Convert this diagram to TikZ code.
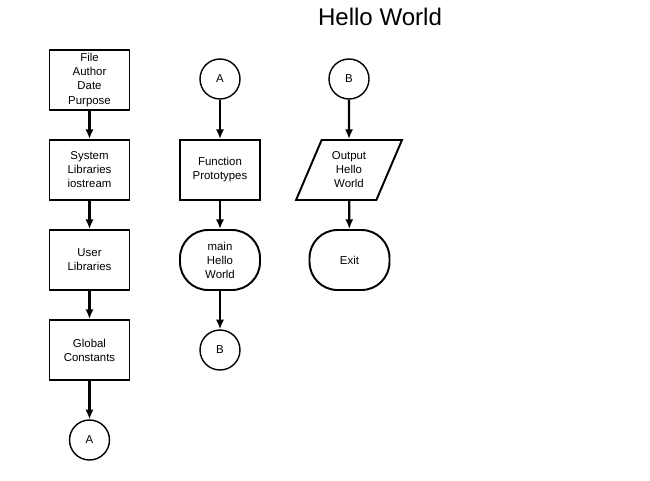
\documentclass[tikz,border=0pt]{standalone}
\usepackage{fontspec}
\setmainfont{Liberation Sans}
\usetikzlibrary{arrows.meta, shapes.geometric}

\tikzset{
    flowbox/.style={draw, line width=1.1pt, minimum width=1.6cm, minimum height=1.2cm, align=center, font=\fontsize{6.5}{8}\selectfont, inner sep=1pt},
    termbox/.style={flowbox, rounded corners=0.56cm},
    iobox/.style={flowbox, trapezium, trapezium left angle=66, trapezium right angle=114, trapezium stretches=true, minimum width=2.12cm},
    connector/.style={draw, circle, line width=0.8pt, minimum size=0.8cm, inner sep=0pt, font=\fontsize{6.5}{8}\selectfont},
    flowarrow/.style={line width=1.25pt, -{Latex[length=5.5pt, width=4.6pt]}}
}

\begin{document}
\begin{tikzpicture}
    \useasboundingbox (0,0) rectangle (13,9.6);
    \node[font=\fontsize{13.7}{16}\selectfont] (title) at (7.6,9.26) {Hello World};
    % left column
    \node[flowbox] (header) at (1.79,8.0) {File\\Author\\Date\\Purpose};
    \node[flowbox] (syslib) at (1.79,6.2) {System\\Libraries\\iostream};
    \node[flowbox] (userlib) at (1.79,4.4) {User\\Libraries};
    \node[flowbox] (globals) at (1.79,2.6) {Global\\Constants};
    \node[connector] (outA) at (1.79,0.8) {A};
    \draw[flowarrow] (header) -- (syslib);
    \draw[flowarrow] (syslib) -- (userlib);
    \draw[flowarrow] (userlib) -- (globals);
    \draw[flowarrow] (globals) -- (outA);
    % middle column
    \node[connector] (inA) at (4.4,8.02) {A};
    \node[flowbox] (protos) at (4.4,6.2) {Function\\Prototypes};
    \node[termbox] (main) at (4.4,4.4) {main\\Hello\\World};
    \node[connector] (outB) at (4.4,2.6) {B};
    \draw[flowarrow] (inA) -- (protos);
    \draw[flowarrow] (protos) -- (main);
    \draw[flowarrow] (main) -- (outB);
    % right column
    \node[connector] (inB) at (6.98,8.02) {B};
    \node[iobox] (output) at (6.98,6.2) {Output\\Hello\\World};
    \node[termbox] (exit) at (6.99,4.4) {Exit};
    \draw[flowarrow] (inB) -- (output);
    \draw[flowarrow] (output) -- (exit);
\end{tikzpicture}
\end{document}
